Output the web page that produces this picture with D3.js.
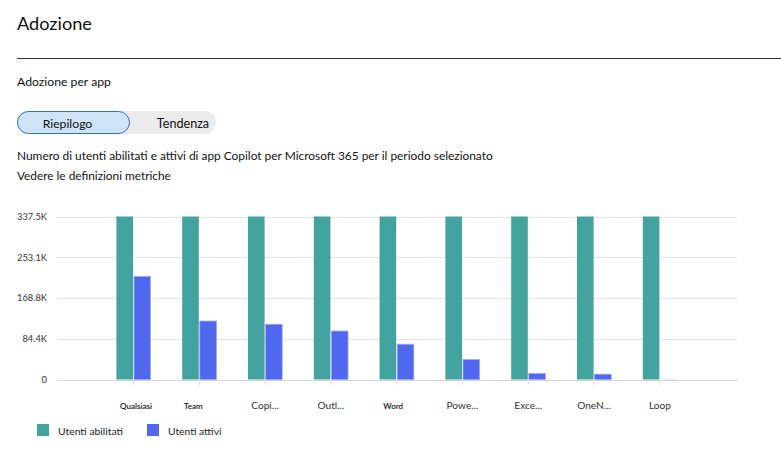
<!DOCTYPE html>
<html><head><meta charset="utf-8">
<script src="https://cdn.jsdelivr.net/npm/d3@7"></script>
<style>
body{margin:0;background:#fff;}
svg text{font-family:"Segoe UI",Lato,"Noto Sans",sans-serif;}
</style></head><body>
<svg id="c" width="781" height="459"></svg>
<script>
const categories = ["Qualsiasi","Team","Copi...","Outl...","Word","Powe...","Exce...","OneN...","Loop"];
const enabledUsers = [337500,337500,337500,337500,337500,337500,337500,337500,337500];
const activeUsers = [213500,121000,114300,100400,73000,41300,12400,11000,800];
const yTicks = [0,84400,168800,253100,337500];
const yTickLabels = ["0","84.4K","168.8K","253.1K","337.5K"];
const seriesNames = ["Utenti abilitati","Utenti attivi"];
const colors = ["#42a39f","#5068ee"];

(function(){
const svg = d3.select("#c");
// scale font so text spans the width measured in the reference
function fit(sel, w){
  sel.each(function(){
    const fs = parseFloat(this.getAttribute("font-size"));
    const cur = this.getComputedTextLength();
    if(cur>0) this.setAttribute("font-size", (fs*w/cur).toFixed(2));
  });
  return sel;
}
// header
fit(svg.append("text").attr("x",17).attr("y",30).attr("font-size",18.5).attr("fill","#111").text("Adozione"),75);
svg.append("line").attr("x1",17).attr("x2",781).attr("y1",58.5).attr("y2",58.5).attr("stroke","#333").attr("stroke-width",1);
fit(svg.append("text").attr("x",17).attr("y",86).attr("font-size",12).attr("fill","#111").text("Adozione per app"),94);
// toggle
svg.append("rect").attr("x",17).attr("y",111).attr("width",199).attr("height",23).attr("rx",11.5).attr("fill","#ebebeb");
svg.append("rect").attr("x",17.5).attr("y",111.5).attr("width",112).attr("height",22).attr("rx",11).attr("fill","#cfe4f7").attr("stroke","#2d6fc2").attr("stroke-width",1);
fit(svg.append("text").attr("x",67.5).attr("y",127.5).attr("text-anchor","middle").attr("font-size",12).attr("fill","#111").text("Riepilogo"),49.6);
fit(svg.append("text").attr("x",183).attr("y",127.5).attr("text-anchor","middle").attr("font-size",12).attr("fill","#111").text("Tendenza"),52.3);
fit(svg.append("text").attr("x",17).attr("y",160).attr("font-size",12).attr("fill","#111").text("Numero di utenti abilitati e attivi di app Copilot per Microsoft 365 per il periodo selezionato"),476);
fit(svg.append("text").attr("x",17).attr("y",180).attr("font-size",12).attr("fill","#111").text("Vedere le definizioni metriche"),154);

// chart
const y = d3.scaleLinear().domain([0,337500]).range([379.5,216.5]);
const x = d3.scaleBand().domain(categories).range([100.6,692.8]).paddingInner(0.48).paddingOuter(0.24);
const gridX0 = 57, gridX1 = 737;

const gy = svg.append("g");
gy.selectAll("line").data(yTicks).join("line")
  .attr("x1",gridX0).attr("x2",gridX1).attr("y1",d=>Math.round(y(d))+0.5).attr("y2",d=>Math.round(y(d))+0.5)
  .attr("stroke",(d,i)=>i===0?"#d4d4d4":"#e3e3e3").attr("stroke-width",1);
const yl = gy.selectAll("text").data(yTicks).join("text")
  .attr("x",47).attr("y",d=>y(d)+3.5).attr("text-anchor","end").attr("font-size",10).attr("fill","#333")
  .text((d,i)=>yTickLabels[i]);
// match the width of "337.5K" (30px) for all y labels
const topLabel = yl.filter((d,i)=>i===yTicks.length-1).node();
const yfs = (10*30/topLabel.getComputedTextLength()).toFixed(2);
yl.attr("font-size",yfs);

const bw = x.bandwidth()/2;
const groups = svg.append("g").selectAll("g").data(categories).join("g")
  .attr("transform",d=>`translate(${x(d)},0)`);
groups.append("rect").attr("x",0).attr("width",bw-0.5)
  .attr("y",(d,i)=>y(enabledUsers[i])).attr("height",(d,i)=>y(0)-y(enabledUsers[i]))
  .attr("fill",colors[0]);
groups.append("rect").attr("x",bw+0.5).attr("width",bw-0.5)
  .attr("y",(d,i)=>y(activeUsers[i])).attr("height",(d,i)=>y(0)-y(activeUsers[i]))
  .attr("fill",(d,i)=>i===categories.length-1?"#e6eafc":colors[1])
  .attr("stroke",(d,i)=>i===categories.length-1?"#e6eafc":"#9aa8f4").attr("stroke-width",0.8);

// x axis ticks + labels
const xa = svg.append("g");
xa.selectAll("line").data(categories).join("line")
  .attr("x1",d=>x(d)+x.bandwidth()/2).attr("x2",d=>x(d)+x.bandwidth()/2)
  .attr("y1",380).attr("y2",385).attr("stroke","#e0e0e0");
const small = {"Qualsiasi":2.5,"Team":-6,"Word":-3.5};
const xl = xa.selectAll("text").data(categories).join("text")
  .attr("x",d=>x(d)+x.bandwidth()/2+(small[d]||0)).attr("y",409)
  .attr("text-anchor","middle")
  .attr("font-size",d=>small[d]!==undefined?8:10.5)
  .attr("font-weight",d=>small[d]!==undefined?600:400)
  .attr("fill",d=>small[d]!==undefined?"#111":"#333")
  .text(d=>d);
const loopNode = xl.filter(d=>d==="Loop").node();
const xfs = (10.5*22/loopNode.getComputedTextLength()).toFixed(2);
xl.filter(d=>small[d]===undefined).attr("font-size",xfs);
fit(xl.filter(d=>d==="Qualsiasi"),32);

// legend
const lg = svg.append("g");
const legX = [37,147];
const legW = [65,53.4];
seriesNames.forEach((n,i)=>{
  lg.append("rect").attr("x",legX[i]).attr("y",424).attr("width",12).attr("height",12).attr("fill",colors[i]);
  fit(lg.append("text").attr("x",legX[i]+21).attr("y",435).attr("font-size",12).attr("fill","#222").text(n),legW[i]);
});
})();
</script></body></html>
